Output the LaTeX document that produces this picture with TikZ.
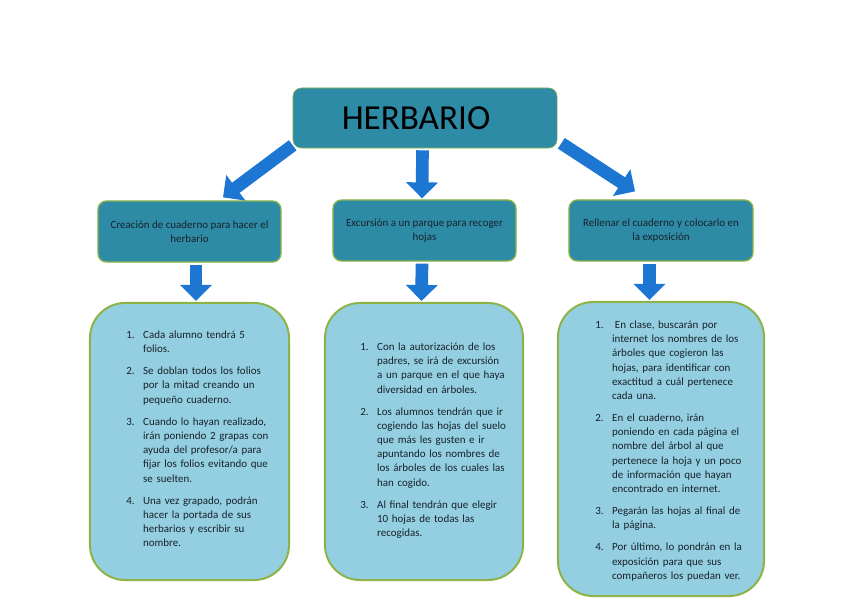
\documentclass[tikz,border=0pt]{standalone}
\usepackage{fontspec}
\setmainfont{Carlito}
\usepackage{enumitem}
\usetikzlibrary{arrows.meta,calc}
\definecolor{petroleo}{HTML}{2E8BA6}
\definecolor{celeste}{HTML}{93CFE0}
\definecolor{oliva}{HTML}{8DB347}
\definecolor{azulflecha}{HTML}{1C76D2}
\definecolor{tinta}{HTML}{18212B}
\setlist[enumerate]{leftmargin=12pt,labelwidth=9pt,labelsep=3pt,align=left,itemsep=5.6pt,parsep=0pt,topsep=0pt,partopsep=0pt}

\begin{document}
\begin{tikzpicture}[x=0.025cm,y=-0.025cm,
 titulo/.style={draw=oliva,fill=petroleo,rounded corners=6pt,minimum width=6.6cm,minimum height=1.5cm,font=\fontsize{25}{30}\selectfont},
 fase/.style={draw=oliva,line width=0.9pt,fill=petroleo,rounded corners=6pt,minimum width=4.575cm,minimum height=1.525cm,align=center,text=tinta,font=\fontsize{7.8}{9.6}\selectfont},
 caja/.style={draw=oliva,line width=1.4pt,fill=celeste,rounded corners=25pt,minimum width=4.975cm,minimum height=6.925cm},
 lista/.style={anchor=north west,inner sep=0pt,text width=3.8cm,text=tinta,font=\fontsize{7.8}{10.1}\selectfont},
 flecha/.style={azulflecha,line width=9pt,-{Triangle[length=0.4cm,width=0.775cm]}}]
\useasboundingbox[fill=white] (0,0) rectangle (848,599);
\node[titulo] (herb) at (425,118) {HERBARIO\kern0.45cm};
\node[fase] (crea) at (189.5,231.5) {Creación de cuaderno para hacer el\\herbario};
\node[fase] (exc) at (424.5,230.5) {Excursión a un parque para recoger\\hojas};
\node[fase,minimum width=4.6cm] (rell) at (661,230.5) {Rellenar el cuaderno y colocarlo en\\la exposición};
\node[caja] (caja1) at (189.5,441.5) {};
\node[caja,minimum width=4.95cm] (caja2) at (424,441.5) {};
\node[caja,minimum width=5.15cm,minimum height=7.35cm] (caja3) at (661,449) {};
% arrows from the title down to the three phases
\draw[flecha] ($(herb.south west)+(0,-3)$) -- ($(crea.north)+(33.5,-3)$);
\draw[flecha] ($(herb.south)+(-2.5,2)$) -- ($(exc.north)+(-2.5,-1)$);
\draw[flecha] ($(herb.south east)+(4,-5)$) -- ($(rell.north)+(-26,-8)$);
\foreach \a/\b/\d in {crea/caja1/6.5,exc/caja2/-2.5,rell/caja3/-11.5}
  \draw[flecha] ($(\a.south)+(\d,2)$) -- ($(\b.north)+(\d,-1)$);
\node[lista] (lista1) at (126,324) {\begin{enumerate}
\item Cada alumno tendrá 5\newline folios.
\item Se doblan todos los folios\newline por la mitad creando un\newline pequeño cuaderno.
\item Cuando lo hayan realizado,\newline irán poniendo 2 grapas con\newline ayuda del profesor/a para\newline fijar los folios evitando que\newline se suelten.
\item Una vez grapado, podrán\newline hacer la portada de sus\newline herbarios y escribir su\newline nombre.
\end{enumerate}};
\node[lista] (lista2) at (360,336) {\begin{enumerate}
\item Con la autorización de los\newline padres, se irá de excursión\newline a un parque en el que haya\newline diversidad en árboles.
\item Los alumnos tendrán que ir\newline cogiendo las hojas del suelo\newline que más les gusten e ir\newline apuntando los nombres de\newline los árboles de los cuales las\newline han cogido.
\item Al final tendrán que elegir\newline 10 hojas de todas las\newline recogidas.
\end{enumerate}};
\node[lista] (lista3) at (595,314) {\begin{enumerate}
\item \hspace{0.25em}En clase, buscarán por\newline internet los nombres de los\newline árboles que cogieron las\newline hojas, para identificar con\newline exactitud a cuál pertenece\newline cada una.
\item En el cuaderno, irán\newline poniendo en cada página el\newline nombre del árbol al que\newline pertenece la hoja y un poco\newline de información que hayan\newline encontrado en internet.
\item Pegarán las hojas al final de\newline la página.
\item Por último, lo pondrán en la\newline exposición para que sus\newline compañeros los puedan ver.
\end{enumerate}};
\end{tikzpicture}
\end{document}
